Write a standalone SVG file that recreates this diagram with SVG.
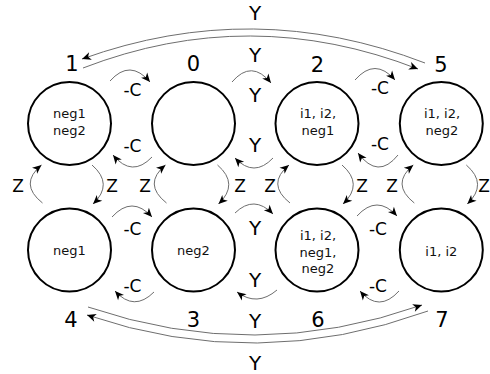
<svg xmlns="http://www.w3.org/2000/svg" width="490" height="374" viewBox="0 0 490 374">
  <style>
    .state { fill: #ffffff; stroke: #000000; stroke-width: 2; }
    .inner { font-family: "DejaVu Sans", sans-serif; font-size: 13px; fill: #111111; text-anchor: middle; }
    .num { font-family: "DejaVu Sans", sans-serif; font-size: 21px; fill: #000000; text-anchor: middle; }
    .lbl { font-family: "DejaVu Sans", sans-serif; font-size: 17px; fill: #000000; text-anchor: middle; }
    .lblY { font-family: "DejaVu Sans", sans-serif; font-size: 20px; fill: #000000; text-anchor: middle; }
    .edge { fill: none; stroke: #6e6e6e; stroke-width: 1; marker-end: url(#ah); }
  </style>
  <defs>
    <marker id="ah" viewBox="-10 -5 12 10" refX="0" refY="0" markerWidth="12" markerHeight="10" markerUnits="userSpaceOnUse" orient="auto">
      <path d="M0,0 L-9,-4 L-6.5,0 L-9,4 Z" fill="#000000"/>
    </marker>
  </defs>

  <rect width="490" height="374" fill="#ffffff"/>

  <!-- transitions -->
  <g id="connectors">
    <!-- long Y transitions across the top (1 <-> 5) -->
    <path class="edge" d="M425,63 Q254,-3 82,59"/>
    <path class="edge" d="M83,68 Q250,3.5 418,69"/>
    <!-- long Y transitions across the bottom (4 <-> 7) -->
    <path class="edge" d="M88,307 Q255,364 422,305"/>
    <path class="edge" d="M428,311 Q257,373 87,315"/>

    <!-- top row, left-to-right arcs -->
    <path class="edge" d="M110,81 Q130,58.5 150,82"/>
    <path class="edge" d="M232,82 Q251.5,59 271,83"/>
    <path class="edge" d="M355,80 Q375,57 395,80"/>
    <!-- top row, right-to-left arcs -->
    <path class="edge" d="M152,157 Q132,178 113,155"/>
    <path class="edge" d="M273,158 Q254,178 235,158"/>
    <path class="edge" d="M398,155 Q378,180 358,153"/>

    <!-- bottom row, left-to-right arcs -->
    <path class="edge" d="M112,217 Q132,195 152,217"/>
    <path class="edge" d="M235,213 Q254,194.5 273,214"/>
    <path class="edge" d="M357,216 Q377,194 397,216"/>
    <!-- bottom row, right-to-left arcs -->
    <path class="edge" d="M154,292 Q134,312 115,291"/>
    <path class="edge" d="M277,290 Q257,307 237,292"/>
    <path class="edge" d="M399,291 Q379,313 360,291"/>

    <!-- vertical Z arcs: up on the left, down on the right -->
    <path class="edge" d="M42.5,203 Q18.5,184 41.5,165"/>
    <path class="edge" d="M92,165 Q114,184 93,204"/>
    <path class="edge" d="M166.5,203 Q142.5,184 165.5,165"/>
    <path class="edge" d="M217.5,165 Q239.5,184 218.5,204"/>
    <path class="edge" d="M290,203 Q266,184 289,165"/>
    <path class="edge" d="M342,165 Q364,184 343,204"/>
    <path class="edge" d="M414.3,203 Q390.3,184 413.3,165"/>
    <path class="edge" d="M466.3,165 Q488.3,184 467.3,204"/>
  </g>

  <!-- transition labels -->
  <g id="edge-labels">
    <text class="lblY" x="255" y="20">Y</text>
    <text class="lblY" x="255" y="62">Y</text>
    <text class="lblY" x="255" y="102">Y</text>
    <text class="lblY" x="255" y="152">Y</text>
    <text class="lblY" x="255" y="235">Y</text>
    <text class="lblY" x="255" y="287">Y</text>
    <text class="lblY" x="255" y="328">Y</text>
    <text class="lblY" x="255" y="370">Y</text>

    <text class="lbl" x="132.5" y="96">-C</text>
    <text class="lbl" x="132.5" y="152">-C</text>
    <text class="lbl" x="380" y="94">-C</text>
    <text class="lbl" x="380" y="150">-C</text>
    <text class="lbl" x="132.5" y="235">-C</text>
    <text class="lbl" x="132.5" y="292">-C</text>
    <text class="lbl" x="378" y="235">-C</text>
    <text class="lbl" x="378" y="292">-C</text>

    <text class="lbl" x="18" y="192">Z</text>
    <text class="lbl" x="112" y="192">Z</text>
    <text class="lbl" x="145" y="192">Z</text>
    <text class="lbl" x="240" y="192">Z</text>
    <text class="lbl" x="270" y="192">Z</text>
    <text class="lbl" x="362" y="192">Z</text>
    <text class="lbl" x="392" y="192">Z</text>
    <text class="lbl" x="484" y="192">Z</text>
  </g>

  <!-- states -->
  <g id="state-1">
    <circle class="state" cx="69.5" cy="123.5" r="41.5"/>
    <text class="num" x="72" y="71">1</text>
    <text class="inner" x="69.5" y="118">neg1</text>
    <text class="inner" x="69.5" y="134.5">neg2</text>
  </g>
  <g id="state-0">
    <circle class="state" cx="193.5" cy="123.5" r="41.5"/>
    <text class="num" x="193.5" y="71">0</text>
  </g>
  <g id="state-2">
    <circle class="state" cx="317" cy="123.5" r="41.5"/>
    <text class="num" x="317.5" y="71.5">2</text>
    <text class="inner" x="318" y="117.5">i1, i2,</text>
    <text class="inner" x="318" y="134.5">neg1</text>
  </g>
  <g id="state-5">
    <circle class="state" cx="441.3" cy="123.5" r="41.5"/>
    <text class="num" x="441" y="71.5">5</text>
    <text class="inner" x="442" y="117.5">i1, i2,</text>
    <text class="inner" x="442" y="134.5">neg2</text>
  </g>
  <g id="state-4">
    <circle class="state" cx="69.5" cy="250" r="41.5"/>
    <text class="num" x="71" y="327">4</text>
    <text class="inner" x="69.5" y="255">neg1</text>
  </g>
  <g id="state-3">
    <circle class="state" cx="193.5" cy="250" r="41.5"/>
    <text class="num" x="193.5" y="327">3</text>
    <text class="inner" x="193.5" y="255">neg2</text>
  </g>
  <g id="state-6">
    <circle class="state" cx="317" cy="250" r="41.5"/>
    <text class="num" x="318" y="327">6</text>
    <text class="inner" x="318" y="239.5">i1, i2,</text>
    <text class="inner" x="318" y="256.5">neg1,</text>
    <text class="inner" x="318" y="273">neg2</text>
  </g>
  <g id="state-7">
    <circle class="state" cx="441.3" cy="250" r="41.5"/>
    <text class="num" x="442" y="327">7</text>
    <text class="inner" x="441.3" y="255.5">i1, i2</text>
  </g>
</svg>
